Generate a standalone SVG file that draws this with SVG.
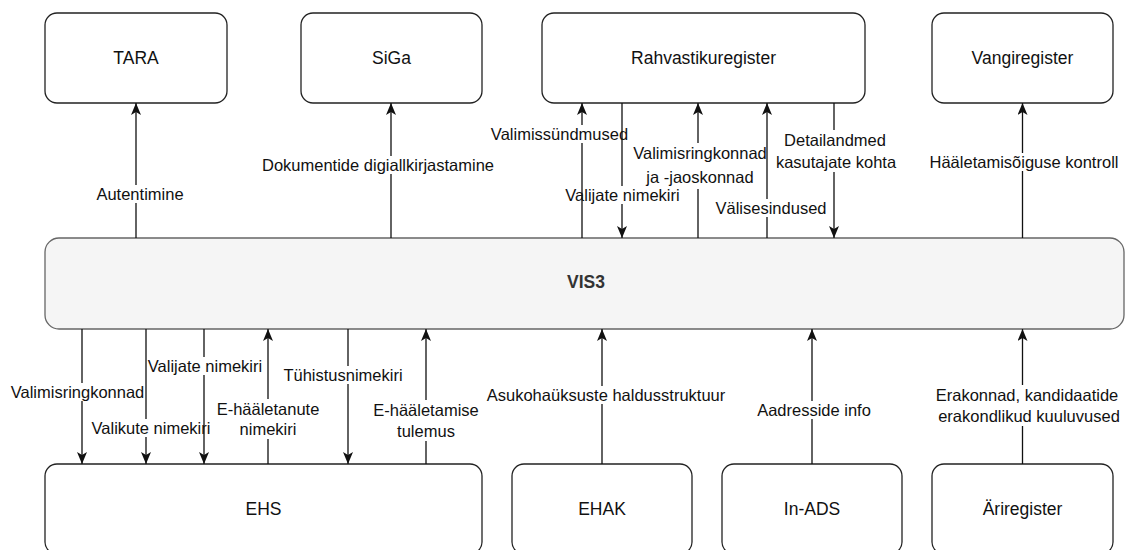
<svg xmlns="http://www.w3.org/2000/svg" width="1126" height="550" viewBox="0 0 1126 550">
<defs>
<marker id="arr" markerUnits="userSpaceOnUse" viewBox="0 0 12 10" markerWidth="12" markerHeight="10" refX="12" refY="5" orient="auto">
<path d="M0,0 L12,5 L0,10 L3,5 Z" fill="#111"/>
</marker>
<style>
.box{fill:#fff;stroke:#222;stroke-width:1.3}
.main{fill:#f5f5f5;stroke:#666;stroke-width:1.3}
.nl{font-family:"Liberation Sans",Arial,Helvetica,sans-serif;font-size:17.5px;fill:#111;text-anchor:middle;dominant-baseline:central}
.ml{font-family:"Liberation Sans",Arial,Helvetica,sans-serif;font-size:17.5px;font-weight:bold;fill:#333;text-anchor:middle;dominant-baseline:central}
.el{font-family:"Liberation Sans",Arial,Helvetica,sans-serif;font-size:16.5px;fill:#111;text-anchor:middle;dominant-baseline:central}
.c{fill:none;stroke:#111;stroke-width:1.3;marker-end:url(#arr)}
</style>
</defs>
<g id="TARA"><rect class="box" x="45" y="13" width="182" height="90" rx="12"/><text class="nl" x="136" y="58">TARA</text></g>
<g id="SiGa"><rect class="box" x="301" y="13" width="181" height="90" rx="12"/><text class="nl" x="391.5" y="58">SiGa</text></g>
<g id="Rahvastikuregister"><rect class="box" x="542" y="13" width="323" height="90" rx="12"/><text class="nl" x="703.5" y="58">Rahvastikuregister</text></g>
<g id="Vangiregister"><rect class="box" x="932" y="13" width="181" height="90" rx="12"/><text class="nl" x="1022.5" y="58">Vangiregister</text></g>
<g id="VIS3"><rect class="main" x="45" y="238" width="1079" height="91" rx="14"/><text class="ml" x="586" y="282">VIS3</text></g>
<g id="EHS"><rect class="box" x="45" y="464" width="437" height="90" rx="12"/><text class="nl" x="263.5" y="509">EHS</text></g>
<g id="EHAK"><rect class="box" x="512" y="464" width="180" height="90" rx="12"/><text class="nl" x="602" y="509">EHAK</text></g>
<g id="In-ADS"><rect class="box" x="722" y="464" width="180" height="90" rx="12"/><text class="nl" x="812" y="509">In-ADS</text></g>
<g id="Ariregister"><rect class="box" x="932" y="464" width="181" height="90" rx="12"/><text class="nl" x="1022.5" y="509">Äriregister</text></g>
<g id="connectors">
<path class="c" d="M136 238 V203 M136 185 V103"/>
<text class="el" x="140" y="194">Autentimine</text>
<path class="c" d="M391 238 V174 M391 156 V103"/>
<text class="el" x="378" y="165">Dokumentide digiallkirjastamine</text>
<path class="c" d="M582 238 V143 M582 125 V103"/>
<text class="el" x="559.5" y="134">Valimissündmused</text>
<path class="c" d="M622 103 V186 M622 204 V238"/>
<text class="el" x="622.5" y="195">Valijate nimekiri</text>
<path class="c" d="M698 238 V189 M698 143 V103"/>
<text class="el" x="700" y="153">Valimisringkonnad</text>
<text class="el" x="700" y="177">ja -jaoskonnad</text>
<path class="c" d="M767 238 V217 M767 199 V103"/>
<text class="el" x="771" y="208">Välisesindused</text>
<path class="c" d="M834 103 V130 M834 172 V238"/>
<text class="el" x="835" y="140">Detailandmed</text>
<text class="el" x="836" y="162">kasutajate kohta</text>
<path class="c" d="M1022.5 238 V171 M1022.5 153 V103"/>
<text class="el" x="1024" y="162">Hääletamisõiguse kontroll</text>
<path class="c" d="M82 329 V383 M82 401 V464"/>
<text class="el" x="77.5" y="392">Valimisringkonnad</text>
<path class="c" d="M146 329 V419 M146 437 V464"/>
<text class="el" x="151" y="428">Valikute nimekiri</text>
<path class="c" d="M204 329 V357 M204 375 V464"/>
<text class="el" x="205" y="366">Valijate nimekiri</text>
<path class="c" d="M268 464 V439 M268 399 V329"/>
<text class="el" x="268" y="409">E-hääletanute</text>
<text class="el" x="268" y="429">nimekiri</text>
<path class="c" d="M348 329 V366 M348 384 V464"/>
<text class="el" x="343" y="375">Tühistusnimekiri</text>
<path class="c" d="M426 464 V441 M426 400 V329"/>
<text class="el" x="426" y="410">E-hääletamise</text>
<text class="el" x="426" y="431">tulemus</text>
<path class="c" d="M602 464 V404 M602 386 V329"/>
<text class="el" x="606" y="395">Asukohaüksuste haldusstruktuur</text>
<path class="c" d="M812 464 V419 M812 401 V329"/>
<text class="el" x="814" y="410">Aadresside info</text>
<path class="c" d="M1022.5 464 V426 M1022.5 385 V329"/>
<text class="el" x="1027" y="395">Erakonnad, kandidaatide</text>
<text class="el" x="1029" y="416">erakondlikud kuuluvused</text>
</g>
</svg>
